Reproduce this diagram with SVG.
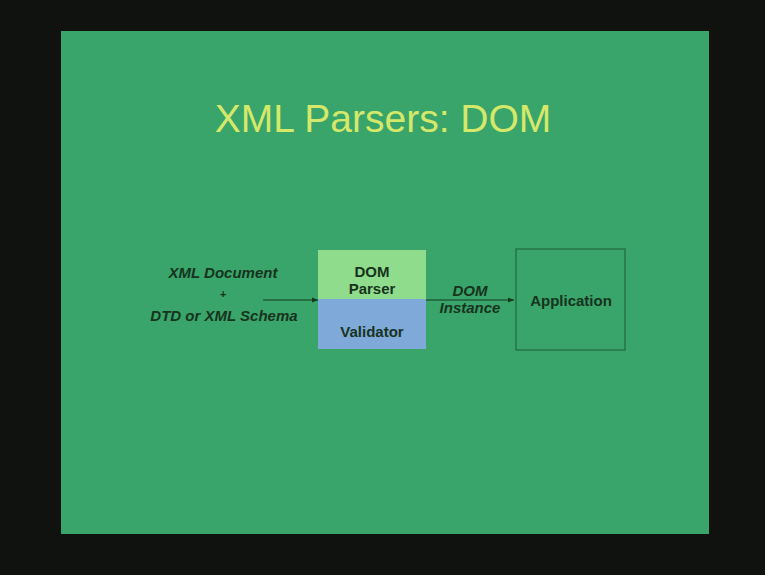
<svg xmlns="http://www.w3.org/2000/svg" width="765" height="575" viewBox="0 0 765 575">
<defs>
<style>
.lbl{font-family:"Liberation Sans",Arial,sans-serif;font-weight:bold;font-size:15px;fill:#17331d;text-anchor:middle}
.it{font-style:italic}
.conn{stroke:#123a1e;stroke-width:1.2;fill:none}
</style>
<marker id="ah" viewBox="0 0 10 10" refX="10" refY="5" markerWidth="5" markerHeight="5" orient="auto">
<path d="M0,1 L10,5 L0,9 z" fill="#123a1e"/>
</marker>
</defs>
<rect width="765" height="575" fill="#0f120e"/>
<rect x="61" y="31" width="648" height="503" fill="#39a56b"/>
<text x="383" y="132" font-family="Liberation Sans,Arial,sans-serif" font-size="39" fill="#d6e86a" text-anchor="middle">XML Parsers: DOM</text>
<g id="input">
<text class="lbl it" x="223" y="278">XML  Document</text>
<text class="lbl it" x="223" y="298" style="font-size:11px">+</text>
<text class="lbl it" x="224" y="321">DTD or XML Schema</text>
</g>
<g id="parser">
<rect x="318" y="250" width="108" height="49" fill="#8fdc8c"/>
<rect x="318" y="299" width="108" height="50" fill="#7fa9d8"/>
<text class="lbl" x="372" y="277">DOM</text>
<text class="lbl" x="372" y="294">Parser</text>
<text class="lbl" x="372" y="337" fill="#1d3350">Validator</text>
</g>
<g id="application">
<rect x="516" y="249" width="109" height="101" fill="none" stroke="#1f6a3c" stroke-width="1.2"/>
<text class="lbl" x="571" y="306">Application</text>
</g>
<g id="connectors">
<line class="conn" x1="263" y1="300" x2="318" y2="300" marker-end="url(#ah)"/>
<line class="conn" x1="426" y1="300" x2="514" y2="300" marker-end="url(#ah)"/>
<text class="lbl it" x="470" y="296">DOM</text>
<text class="lbl it" x="470" y="313">Instance</text>
</g>
</svg>
